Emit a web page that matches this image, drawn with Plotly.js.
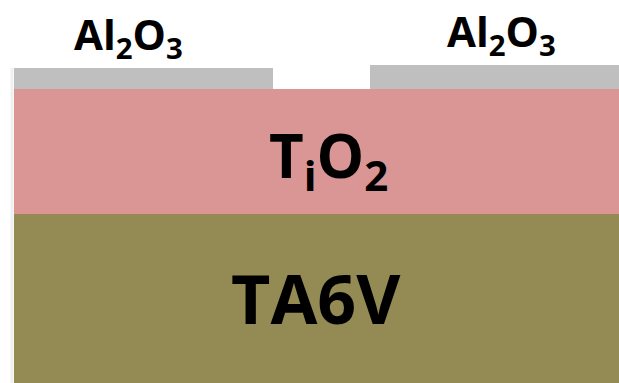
<!DOCTYPE html>
<html>
<head>
<meta charset="utf-8">
<script src="https://cdn.plot.ly/plotly-3.0.1.min.js"></script>
<style>html,body{margin:0;padding:0;background:#fff}#chart{width:619px;height:383px}</style>
</head>
<body>
<div id="chart"></div>
<script>
// Layer stack (schematic units)
const layerNames = ['TA6V', 'TiO2', 'Al2O3 (left)', 'Al2O3 (right)'];
const layerStart = [0, 0, 0, 356];
const layerEnd = [605, 605, 259, 605];
const layerBottom = [0, 169, 294, 294];
const layerTop = [169, 294, 315, 318];
const layerColors = ['#948A54', '#D99694', '#BFBFBF', '#BFBFBF'];

const labelTexts = ['Al<sub>2</sub>O<sub>3</sub>', 'Al<sub>2</sub>O<sub>3</sub>', 'T<sub>i</sub>O<sub>2</sub>', 'TA6V'];
const labelX = [114, 487, 314, 302];
const labelY = [347, 350, 225, 86];
const labelSizes = [42, 42, 60, 68];

const trace = {
  type: 'bar',
  x: layerStart.map((s, i) => (s + layerEnd[i]) / 2),
  width: layerStart.map((s, i) => layerEnd[i] - s),
  base: layerBottom,
  y: layerBottom.map((b, i) => layerTop[i] - b),
  text: layerNames,
  textposition: 'none',
  hoverinfo: 'text',
  marker: {color: layerColors, line: {width: 0}},
  showlegend: false
};

const layout = {
  width: 619, height: 383,
  margin: {l: 0, r: 0, t: 0, b: 0},
  paper_bgcolor: '#ffffff', plot_bgcolor: '#ffffff',
  xaxis: {range: [-14, 605], visible: false, fixedrange: true},
  yaxis: {range: [0, 383], visible: false, fixedrange: true},
  annotations: labelTexts.map((t, i) => ({
    text: t, x: labelX[i], y: labelY[i], xref: 'x', yref: 'y',
    showarrow: false, xanchor: 'center', yanchor: 'middle',
    font: {family: 'Open Sans, sans-serif', size: labelSizes[i], color: '#000', weight: 'bold'}
  })),
  shapes: [{type: 'line', xref: 'x', yref: 'y', x0: -2, x1: -2, y0: 0, y1: 315,
    line: {color: 'rgba(0,0,0,0.06)', width: 3}}]
};

Plotly.newPlot('chart', [trace], layout, {displayModeBar: false, staticPlot: true});
</script>
</body>
</html>
